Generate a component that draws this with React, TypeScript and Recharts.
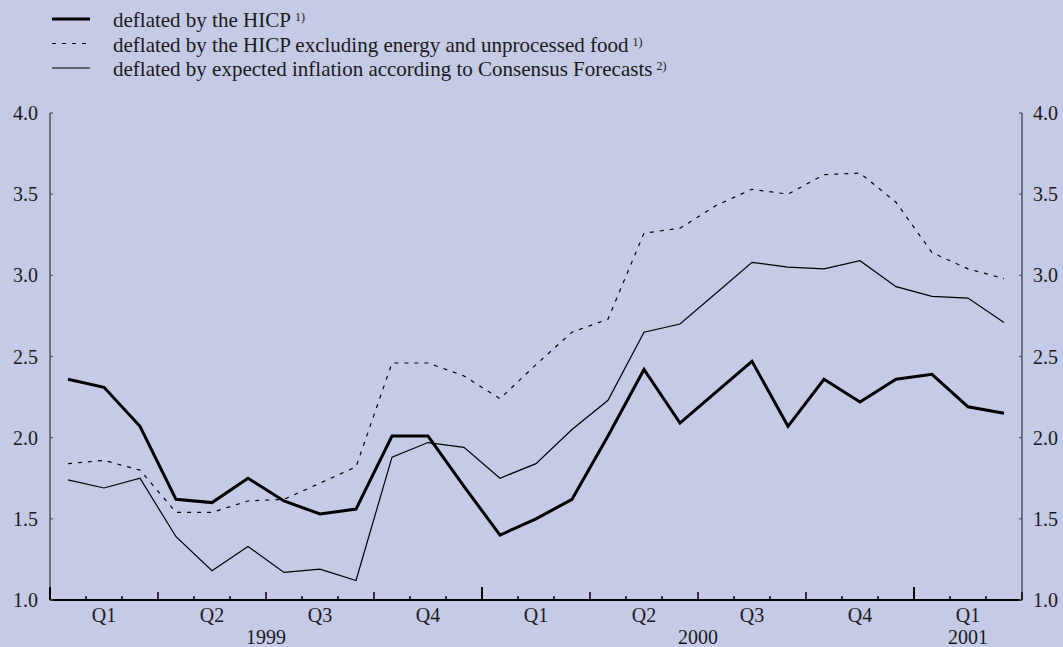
import React from 'react'
import { LineChart, Line, XAxis, YAxis } from 'recharts'

// monthly observations, Jan 1999 - Mar 2001
const months = [
  '1999-01', '1999-02', '1999-03', '1999-04', '1999-05', '1999-06',
  '1999-07', '1999-08', '1999-09', '1999-10', '1999-11', '1999-12',
  '2000-01', '2000-02', '2000-03', '2000-04', '2000-05', '2000-06',
  '2000-07', '2000-08', '2000-09', '2000-10', '2000-11', '2000-12',
  '2001-01', '2001-02', '2001-03',
]

const hicp = [
  2.36, 2.31, 2.07, 1.62, 1.60, 1.75, 1.61, 1.53, 1.56, 2.01, 2.01, 1.70,
  1.40, 1.50, 1.62, 2.01, 2.42, 2.09, 2.28, 2.47, 2.07, 2.36, 2.22, 2.36,
  2.39, 2.19, 2.15,
]

const hicpCore = [
  1.84, 1.86, 1.80, 1.54, 1.54, 1.61, 1.62, 1.72, 1.82, 2.46, 2.46, 2.38,
  2.24, 2.45, 2.65, 2.73, 3.26, 3.29, 3.43, 3.53, 3.50, 3.62, 3.63, 3.45,
  3.14, 3.04, 2.98,
]

const consensus = [
  1.74, 1.69, 1.75, 1.39, 1.18, 1.33, 1.17, 1.19, 1.12, 1.88, 1.97, 1.94,
  1.75, 1.84, 2.05, 2.23, 2.65, 2.70, 2.89, 3.08, 3.05, 3.04, 3.09, 2.93,
  2.87, 2.86, 2.71,
]

const quarterLabels = ['Q1', 'Q2', 'Q3', 'Q4', 'Q1', 'Q2', 'Q3', 'Q4', 'Q1']
const quarterCenters = [1, 4, 7, 10, 13, 16, 19, 22, 25]
const yearLabels = ['1999', '2000', '2001']
const yearCenters = [5.5, 17.5, 25]
const yTicks = [1.0, 1.5, 2.0, 2.5, 3.0, 3.5, 4.0]

const data = months.map((m, i) => ({
  idx: i,
  month: m,
  hicp: hicp[i],
  hicpCore: hicpCore[i],
  consensus: consensus[i],
}))

// month boundaries, one before each month plus the closing one
const bounds = [...months.map((_, i) => i - 0.5), months.length - 0.5]
const xTicks = Array.from(new Set([...bounds, ...quarterCenters, ...yearCenters])).sort((a, b) => a - b)

const FONT = '"Liberation Serif", "Times New Roman", serif'
const BG = '#c5cae6'
const TEXT = '#1a1a1a'

const XTick = (props: any) => {
  const { x, y, payload } = props
  const v = payload.value
  const parts: React.ReactNode[] = []
  if (bounds.includes(v)) {
    const n = v + 0.5
    const len = n % 12 === 0 ? 13 : n % 3 === 0 ? 8 : 4
    parts.push(
      <line key="t" x1={x} x2={x} y1={y} y2={y - len} stroke="#000" strokeWidth={n % 12 === 0 ? 2 : 1.5} />
    )
  }
  const q = quarterCenters.indexOf(v)
  if (q >= 0) {
    parts.push(
      <text key="q" x={x} y={y + 22} textAnchor="middle" fontSize={20} fontFamily={FONT} fill={TEXT}>
        {quarterLabels[q]}
      </text>
    )
  }
  const yr = yearCenters.indexOf(v)
  if (yr >= 0) {
    parts.push(
      <text key="y" x={x} y={y + 44} textAnchor="middle" fontSize={20} fontFamily={FONT} fill={TEXT}>
        {yearLabels[yr]}
      </text>
    )
  }
  return <g>{parts}</g>
}

const LeftTick = (props: any) => {
  const { x, y, payload } = props
  return (
    <g>
      <line x1={x} x2={x + 3} y1={y} y2={y} stroke="#555" strokeWidth={1.2} />
      <text x={x - 12} y={y} dy="0.35em" textAnchor="end" fontSize={20} fontFamily={FONT} fill={TEXT}>
        {payload.value.toFixed(1)}
      </text>
    </g>
  )
}

const RightTick = (props: any) => {
  const { x, y, payload } = props
  return (
    <g>
      <line x1={x} x2={x - 3} y1={y} y2={y} stroke="#555" strokeWidth={1.2} />
      <text x={x + 11} y={y} dy="0.35em" textAnchor="start" fontSize={20} fontFamily={FONT} fill={TEXT}>
        {payload.value.toFixed(1)}
      </text>
    </g>
  )
}

const legendRows = [
  { label: 'deflated by the HICP', note: '1)', width: 3, dash: undefined as string | undefined },
  { label: 'deflated by the HICP excluding energy and unprocessed food', note: '1)', width: 1.2, dash: '4 6' },
  { label: 'deflated by expected inflation according to Consensus Forecasts', note: '2)', width: 1.2, dash: undefined },
]

function ChartLegend() {
  return (
    <svg width={720} height={90} style={{ position: 'absolute', left: 0, top: 0 }}>
      {legendRows.map((r, i) => {
        const cy = 19 + i * 24.5
        return (
          <g key={r.label}>
            <line x1={52} x2={90} y1={cy} y2={cy} stroke="#000" strokeWidth={r.width} strokeDasharray={r.dash} />
            <text x={113} y={cy + 8} fontSize={21} fontFamily={FONT} fill={TEXT}>
              {r.label}
              <tspan fontSize={12} dx={4} dy={-6}>{r.note}</tspan>
            </text>
          </g>
        )
      })}
    </svg>
  )
}

export default function App() {
  return (
    <div style={{ position: 'absolute', left: 0, top: 0, width: 1063, height: 647, background: BG, overflow: 'hidden' }}>
      <LineChart width={1063} height={647} data={data} margin={{ top: 113, right: 0, bottom: 0, left: 0 }}>
        <XAxis
          dataKey="idx"
          type="number"
          domain={[-0.5, 26.5]}
          ticks={xTicks}
          interval={0}
          tick={<XTick />}
          tickLine={false}
          tickSize={0}
          tickMargin={0}
          height={47}
          axisLine={{ stroke: '#000', strokeWidth: 2 }}
          allowDataOverflow
        />
        <YAxis
          yAxisId="l"
          orientation="left"
          domain={[1, 4]}
          ticks={yTicks}
          interval={0}
          width={50}
          tick={<LeftTick />}
          tickLine={false}
          tickSize={0}
          tickMargin={0}
          axisLine={{ stroke: '#555', strokeWidth: 1.5 }}
          allowDataOverflow
        />
        <YAxis
          yAxisId="r"
          orientation="right"
          domain={[1, 4]}
          ticks={yTicks}
          interval={0}
          width={41}
          tick={<RightTick />}
          tickLine={false}
          tickSize={0}
          tickMargin={0}
          axisLine={{ stroke: '#555', strokeWidth: 1.5 }}
          allowDataOverflow
        />
        <Line yAxisId="l" type="linear" dataKey="hicpCore" stroke="#000" strokeWidth={1.2} strokeDasharray="4 6" dot={false} isAnimationActive={false} />
        <Line yAxisId="l" type="linear" dataKey="consensus" stroke="#000" strokeWidth={1.2} dot={false} isAnimationActive={false} />
        <Line yAxisId="l" type="linear" dataKey="hicp" stroke="#000" strokeWidth={3} dot={false} isAnimationActive={false} />
      </LineChart>
      <ChartLegend />
    </div>
  )
}
